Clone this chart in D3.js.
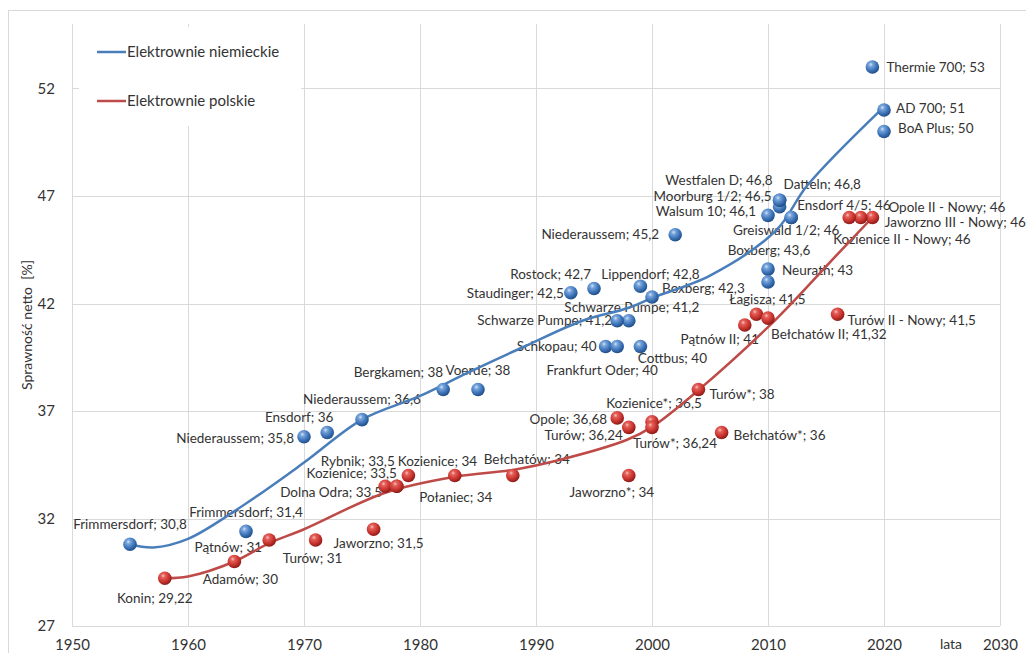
<!DOCTYPE html>
<html><head><meta charset="utf-8">
<script src="https://cdn.jsdelivr.net/npm/d3@7"></script>
<style>
body{margin:0;background:#fff}
svg{display:block}
text{font-family:Lato,"Noto Sans",sans-serif;fill:#333}
</style>
</head><body>
<svg id="c" width="1026" height="653"></svg>
<script>
// ---------- DATA ----------
const xTicks = [1950,1960,1970,1980,1990,2000,2010,2020,2030];
const yTicks = [27,32,37,42,47,52];
const seriesNames = ["Elektrownie niemieckie","Elektrownie polskie"];

const deNames = ["Frimmersdorf","Frimmersdorf","Niederaussem","Ensdorf","Niederaussem","Bergkamen","Voerde",
  "Staudinger","Rostock","Lippendorf","Boxberg","Schwarze Pumpe","Schwarze Pumpe","Schkopau","Frankfurt Oder",
  "Cottbus","Niederaussem","Walsum 10","Moorburg 1/2","Westfalen D","Datteln","Ensdorf 4/5","Greiswald 1/2",
  "Boxberg","Neurath","Thermie 700","AD 700","BoA Plus"];
const deYears = [1955,1965,1970,1972,1975,1982,1985,1993,1995,1999,2000,1998,1997,1996,1997,1999,2002,2010,2011,2011,2011,2012,2012,2010,2010,2019,2020,2020];
const deValues = [30.8,31.4,35.8,36,36.6,38,38,42.5,42.7,42.8,42.3,41.2,41.2,40,40,40,45.2,46.1,46.5,46.8,46.8,46,46,43.6,43,53,51,50];

const plNames = ["Konin","Adamów","Pątnów","Turów","Jaworzno","Dolna Odra","Kozienice","Rybnik","Kozienice",
  "Połaniec","Bełchatów","Jaworzno*","Opole","Turów","Kozienice*","Turów*","Turów*","Bełchatów*","Pątnów II",
  "Łagisza","Bełchatów II","Turów II - Nowy","Opole II - Nowy","Jaworzno III - Nowy","Kozienice II - Nowy"];
const plYears = [1958,1964,1967,1971,1976,1977,1978,1978,1979,1983,1988,1998,1997,1998,2000,2000,2004,2006,2008,2009,2010,2016,2019,2018,2017];
const plValues = [29.22,30,31,31,31.5,33.5,33.5,33.5,34,34,34,34,36.68,36.24,36.5,36.24,38,36,41,41.5,41.32,41.5,46,46,46];

// smoothed trend lines
const deTrendYears  = [1955,1957,1960,1965,1970,1975,1980,1984,1989,1994,1998,2000,2005,2010.7,2013.4,2020];
const deTrendValues = [30.8,30.65,31.05,32.7,34.6,36.6,37.7,38.75,40.0,41.2,41.8,42.26,43.3,45.4,47.5,51.15];
const plTrendYears  = [1958,1960,1964,1967,1970,1977,1983,1988,1992,1997.8,2000,2004,2010,2012.3,2016,2019];
const plTrendValues = [29.22,29.3,30.0,30.85,31.5,33.2,33.94,34.26,34.72,35.65,36.26,37.97,40.9,42.16,44.3,46.0];

// ---------- LABEL LAYOUT (pixel offsets from marker) ----------
const deLabelPos = [[0,-20,"middle"],[0,-19,"middle"],[-10,1,"end"],[-28,-15,"middle"],[0,-20,"middle"],[0,-17,"end"],
  [0,-19,"middle"],[-7,1,"end"],[-3,-14,"end"],[10,-12,"middle"],[10,-9,"start"],[3,-13,"middle"],[-5,0,"end"],
  [-9,0,"end"],[-15,24,"middle"],[32,12,"middle"],[-16,0,"end"],[-12,-4,"end"],[-8,-10,"end"],[-7,-20,"end"],
  [4,-16,"start"],[6,-12,"start"],[-5,13,"middle"],[1,-19,"middle"],[14,-12,"start"],[14,0,"start"],[12,-2,"start"],[14,-3,"start"]];
const plLabelPos = [[-10,20,"middle"],[6,18,"middle"],[-7,7,"end"],[-3,18,"middle"],[5,14,"middle"],[-3,6,"end"],
  [0,-13,"end"],[-39,-25,"middle"],[29,-14,"middle"],[1,22,"middle"],[14,-16,"middle"],[-17,17,"middle"],
  [-10,1,"end"],[-6,8,"end"],[2,-18,"middle"],[23,16,"middle"],[11,5,"start"],[12,3,"start"],[-25,14,"middle"],
  [11,-15,"middle"],[3,16,"start"],[10,6,"start"],[16,-10,"start"],[24,5,"start"],[-16,22,"start"]];

// ---------- CHART ----------
const svg = d3.select("#c");
const L = 72, R = 1000, T = 24, B = 626;
const x = d3.scaleLinear().domain([1950,2030]).range([L,R]);
const y = d3.scaleLinear().domain([27,55]).range([B,T]);
const fmt = v => String(v).replace(".", ",");
const blue = "#4a7ebb", red = "#be4b48";

// outer border
svg.append("rect").attr("x",8.5).attr("y",10.5).attr("width",1030).attr("height",700)
  .attr("fill","none").attr("stroke","#d9d9d9");

// gradients
const defs = svg.append("defs");
function grad(id, stops){
  const g = defs.append("radialGradient").attr("id",id).attr("cx","38%").attr("cy","32%").attr("r","68%");
  stops.forEach(s=>g.append("stop").attr("offset",s[0]).attr("stop-color",s[1]));
}
grad("gBlue",[[0,"#d4e4f7"],[0.22,"#79a6dc"],[0.65,"#3d73b8"],[1,"#214f88"]]);
grad("gRed",[[0,"#f7c6c3"],[0.22,"#e5605a"],[0.65,"#c8332e"],[1,"#8c1c18"]]);

// gridlines
svg.append("g").selectAll("line").data(xTicks).join("line")
  .attr("x1",d=>x(d)+0.5).attr("x2",d=>x(d)+0.5).attr("y1",T).attr("y2",B)
  .attr("stroke","#d9d9d9");
svg.append("g").selectAll("line").data(yTicks).join("line")
  .attr("x1",L).attr("x2",R).attr("y1",d=>Math.round(y(d))+0.5).attr("y2",d=>Math.round(y(d))+0.5)
  .attr("stroke","#d9d9d9");

// axes
const xa = svg.append("g").attr("transform",`translate(0,${B})`)
  .call(d3.axisBottom(x).tickValues(xTicks).tickFormat(d3.format("d")).tickSize(0).tickPadding(13));
const ya = svg.append("g").attr("transform",`translate(${L},0)`)
  .call(d3.axisLeft(y).tickValues(yTicks).tickSize(0).tickPadding(17));
[xa,ya].forEach(a=>{a.select(".domain").remove(); a.selectAll("text").attr("font-size","15px").attr("font-family",null).style("fill","#333");});

svg.append("text").attr("transform","translate(32,325) rotate(-90)").attr("text-anchor","middle")
  .attr("font-size","14px").style("white-space","pre").text("Sprawność netto  [%]");
svg.append("text").attr("x",951).attr("y",649).attr("text-anchor","middle").attr("font-size","14px").text("lata");

// legend
const lg = svg.append("g");
lg.append("rect").attr("x",79).attr("y",27).attr("width",222).attr("height",99).attr("fill","#fff");
seriesNames.forEach((n,i)=>{
  const yy = 52 + i*49;
  lg.append("line").attr("x1",97).attr("x2",126).attr("y1",yy).attr("y2",yy)
    .attr("stroke",i?red:blue).attr("stroke-width",2.5);
  lg.append("text").attr("x",127).attr("y",yy).attr("dy","0.35em").attr("font-size","15px").text(n);
});

// data labels
function labels(names, years, values, pos){
  svg.append("g").selectAll("text").data(names).join("text")
    .attr("x",(d,i)=>x(years[i])+pos[i][0])
    .attr("y",(d,i)=>y(values[i])+pos[i][1])
    .attr("dy","0.35em").attr("text-anchor",(d,i)=>pos[i][2])
    .attr("font-size","13.5px")
    .text((d,i)=>d+"; "+fmt(values[i]));
}
labels(deNames,deYears,deValues,deLabelPos);
labels(plNames,plYears,plValues,plLabelPos);

// trend lines
const line = d3.line().x(d=>x(d[0])).y(d=>y(d[1])).curve(d3.curveCatmullRom.alpha(0.5));
svg.append("path").attr("d",line(deTrendYears.map((v,i)=>[v,deTrendValues[i]])))
  .attr("fill","none").attr("stroke",blue).attr("stroke-width",2.5);
svg.append("path").attr("d",line(plTrendYears.map((v,i)=>[v,plTrendValues[i]])))
  .attr("fill","none").attr("stroke",red).attr("stroke-width",2.5);

// markers
function balls(years, values, g){
  svg.append("g").selectAll("circle").data(years).join("circle")
    .attr("cx",(d,i)=>x(d)).attr("cy",(d,i)=>y(values[i])).attr("r",6.8)
    .attr("fill",`url(#${g})`);
}
balls(deYears,deValues,"gBlue");
balls(plYears,plValues,"gRed");
</script>
</body></html>
